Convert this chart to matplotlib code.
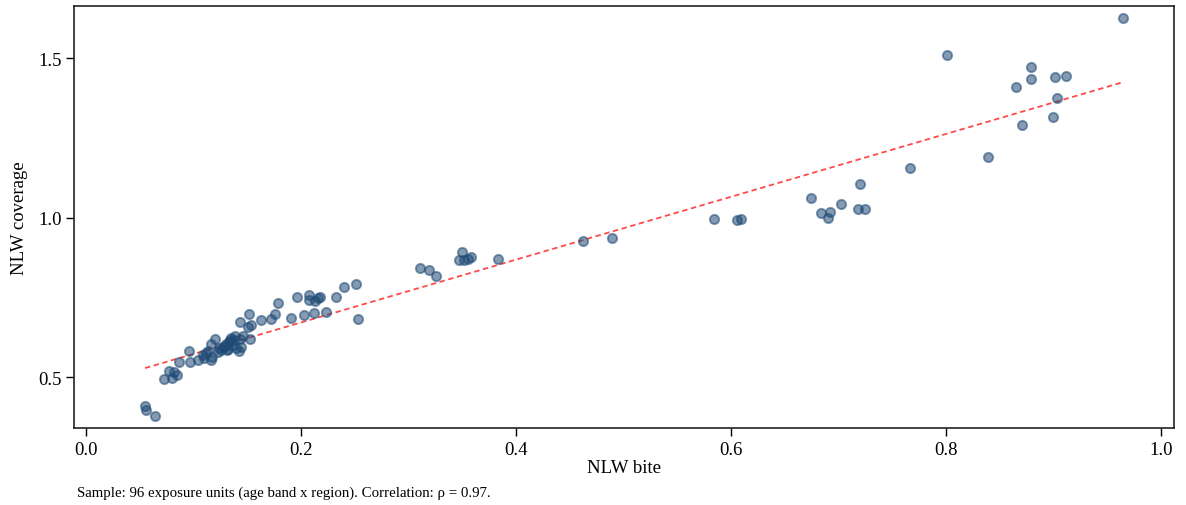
import numpy as np
import matplotlib
matplotlib.use("Agg")
import matplotlib.pyplot as plt

plt.rcParams['font.family'] = ['Liberation Serif', 'DejaVu Serif']

# NLW bite (x) and NLW coverage (y) per exposure unit
bite = [
    0.965, 0.801, 0.879, 0.879, 0.865, 0.901, 0.912, 0.903, 0.899, 0.871, 0.839, 0.766,
    0.720, 0.674, 0.702, 0.718, 0.725, 0.684, 0.692, 0.690, 0.584, 0.606, 0.609,
    0.462, 0.489,
    0.350, 0.347, 0.352, 0.355, 0.358, 0.383, 0.311, 0.319, 0.326,
    0.251, 0.240, 0.233, 0.218, 0.208, 0.208, 0.213, 0.216, 0.196, 0.179, 0.223, 0.212,
    0.203, 0.191, 0.253, 0.176, 0.172, 0.163, 0.152, 0.154, 0.151, 0.143,
    0.055, 0.056, 0.064, 0.073, 0.077, 0.080, 0.082, 0.085, 0.087, 0.096, 0.097, 0.104,
    0.110, 0.109, 0.116, 0.117, 0.114, 0.116, 0.120, 0.124, 0.126, 0.129, 0.131, 0.133,
    0.134, 0.135, 0.138, 0.140, 0.142, 0.143, 0.144, 0.153,
    0.128, 0.132, 0.136, 0.130, 0.123, 0.112, 0.139, 0.146,
]
coverage = [
    1.625, 1.509, 1.472, 1.434, 1.409, 1.440, 1.444, 1.375, 1.315, 1.290, 1.190, 1.155,
    1.105, 1.061, 1.042, 1.027, 1.027, 1.014, 1.017, 0.998, 0.995, 0.992, 0.995,
    0.926, 0.936,
    0.892, 0.867, 0.867, 0.870, 0.876, 0.870, 0.842, 0.835, 0.817,
    0.792, 0.782, 0.751, 0.751, 0.757, 0.741, 0.738, 0.748, 0.751, 0.732, 0.704, 0.700,
    0.694, 0.685, 0.682, 0.697, 0.682, 0.679, 0.697, 0.663, 0.657, 0.672,
    0.409, 0.397, 0.378, 0.494, 0.519, 0.497, 0.516, 0.506, 0.547, 0.582, 0.547, 0.553,
    0.560, 0.569, 0.553, 0.563, 0.582, 0.604, 0.619, 0.591, 0.585, 0.597, 0.585, 0.610,
    0.616, 0.623, 0.616, 0.591, 0.582, 0.619, 0.594, 0.619,
    0.595, 0.589, 0.600, 0.604, 0.578, 0.575, 0.628, 0.630,
]

xticks = [0.0, 0.2, 0.4, 0.6, 0.8, 1.0]
yticks = [0.5, 1.0, 1.5]
note = "Sample: 96 exposure units (age band x region). Correlation: \u03c1 = 0.97."

x = np.array(bite)
y = np.array(coverage)

fig = plt.figure(figsize=(11.86, 5.06), dpi=100)
ax = fig.add_axes([0.0624, 0.152, 0.9275, 0.834])

ax.scatter(x, y, s=44, color='#1f4a75', alpha=0.55, edgecolors='#1f4a75',
           linewidths=1.4, zorder=3)

slope, intercept = np.polyfit(x, y, 1)
xs = np.array([x.min(), x.max()])
ax.plot(xs, intercept + slope * xs, color='#ff2a2a', linestyle=(0, (3, 2)),
        linewidth=1.3, alpha=0.85, zorder=2)

ax.set_xlim(-0.011, 1.012)
ax.set_ylim(0.34, 1.663)
ax.set_xticks(xticks)
ax.set_xticklabels([f"{t:.1f}" for t in xticks])
ax.set_yticks(yticks)
ax.set_yticklabels([f"{t:.1f}" for t in yticks])
ax.tick_params(direction='out', length=6, width=1, labelsize=13.5, pad=3)
for sp in ax.spines.values():
    sp.set_linewidth(1.2)
    sp.set_color('#222222')

ax.set_xlabel("NLW bite", fontsize=13.5, labelpad=1)
ax.set_ylabel("NLW coverage", fontsize=13.5, labelpad=7)

fig.text(0.065, 0.012, note, fontsize=10.7, ha='left', va='bottom')

fig.savefig("out.png", dpi=100)
